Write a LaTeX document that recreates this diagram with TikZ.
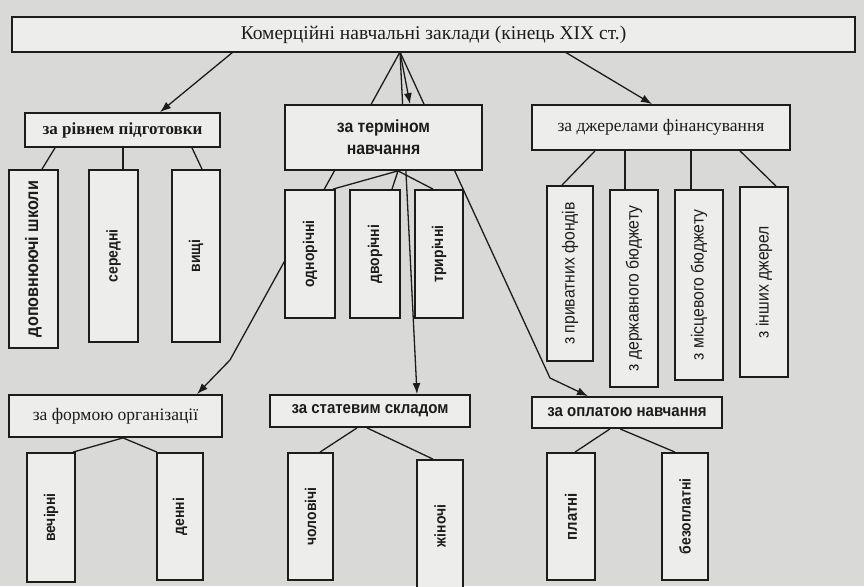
\documentclass[tikz,border=0pt]{standalone}
\usepackage{fontspec}
\setmainfont{Liberation Serif}
\newfontfamily\narrowsf[FakeStretch=0.9]{Liberation Sans}
\usetikzlibrary{arrows.meta}

\pgfdeclarelayer{paper}
\pgfdeclarelayer{lines}
\pgfsetlayers{paper,lines,main}

\definecolor{scan}{HTML}{D9D9D7}
\definecolor{card}{HTML}{EDEDEB}
\definecolor{ink}{HTML}{1C1C1C}

\tikzset{
  box/.style={draw=ink, fill=card, line width=1.8pt, inner sep=0pt, text=ink, align=center},
  serifbox/.style={box, font=\fontsize{17.5}{20}\selectfont},
  sansbox/.style={box, font=\narrowsf\bfseries\fontsize{16.7}{21}\selectfont},
  vbox/.style={box, rotate=90, font=\narrowsf\bfseries\fontsize{15.5}{15.5}\selectfont},
  vthin/.style={vbox, font=\narrowsf\fontsize{17.5}{17.5}\selectfont},
  link/.style={ink, line width=1.3pt},
  arr/.style={link, -{Latex[length=11pt,width=8pt]}}
}

\begin{document}
\begin{tikzpicture}[x=1pt, y=-1pt]
  \begin{pgfonlayer}{paper}
    \fill [scan] (0,0) rectangle (864,586);
  \end{pgfonlayer}
  \useasboundingbox (0,0) rectangle (864,586);

  % top
  \node [box, minimum width=843pt, minimum height=35pt, font=\fontsize{19.5}{19.5}\selectfont] (main) at (433.5,34.5) {Комерційні навчальні заклади (кінець XIX ст.)};

  \coordinate (hubL) at (233,52);
  \coordinate (hub) at (400,52);
  \coordinate (hubR) at (565,52);
  \coordinate (kinkF) at (230,360);
  \coordinate (kinkO) at (550,378);

  % first row of criteria
  \node [serifbox, font=\bfseries\fontsize{17}{20}\selectfont, minimum width=195pt, minimum height=34pt] (lev) at (122.5,130) {за рівнем підготовки};
  \node [sansbox, font=\narrowsf\bfseries\fontsize{17.5}{22}\selectfont, minimum width=197pt, minimum height=65pt] (term) at (383.5,137.5) {за терміном\\навчання};
  \node [serifbox, minimum width=258pt, minimum height=45pt] (fin) at (661,127.5) {за джерелами фінансування};

  \node [vbox, font=\narrowsf\bfseries\fontsize{18}{18}\selectfont, minimum width=178pt, minimum height=49pt] (dop) at (33.5,259) {доповнюючі школи};
  \node [vbox, minimum width=172pt, minimum height=49pt] (ser) at (113.5,256) {середні};
  \node [vbox, minimum width=172pt, minimum height=48pt] (vys) at (196,256) {вищі};

  \node [vbox, minimum width=128pt, minimum height=50pt] (one) at (310,254) {однорічні};
  \node [vbox, minimum width=128pt, minimum height=50pt] (two) at (375,254) {дворічні};
  \node [vbox, minimum width=128pt, minimum height=48pt] (three) at (439,254) {трирічні};

  \node [vthin, minimum width=175pt, minimum height=46pt] (priv) at (570,273.5) {з приватних фондів};
  \node [vthin, minimum width=197pt, minimum height=48pt] (derzh) at (634,288.5) {з державного бюджету};
  \node [vthin, minimum width=190pt, minimum height=48pt] (mists) at (699,285) {з місцевого бюджету};
  \node [vthin, minimum width=190pt, minimum height=48pt] (insh) at (764,282) {з інших джерел};

  % second row of criteria
  \node [serifbox, minimum width=213pt, minimum height=42pt] (form) at (115.5,416) {за формою організації};
  \node [sansbox, minimum width=200pt, minimum height=32pt] (stat) at (370,411) {за статевим складом};
  \node [sansbox, minimum width=190pt, minimum height=31pt] (opl) at (627,412.5) {за оплатою навчання};

  \node [vbox, minimum width=129pt, minimum height=48pt] (vech) at (51,517.5) {вечірні};
  \node [vbox, minimum width=127pt, minimum height=46pt] (denn) at (180,516.5) {денні};
  \node [vbox, minimum width=127pt, minimum height=45pt] (chol) at (310.5,516.5) {чоловічі};
  \node [vbox, minimum width=132pt, minimum height=46pt] (zhin) at (440,526) {жіночі};
  \node [vbox, font=\narrowsf\bfseries\fontsize{16.5}{16.5}\selectfont, minimum width=127pt, minimum height=48pt] (plat) at (571,516.5) {платні};
  \node [vbox, minimum width=127pt, minimum height=46pt] (bez) at (685,516.5) {безоплатні};

  \begin{pgfonlayer}{lines}
    \draw [arr] (hubL) to ([xshift=37.5pt]lev.north);
    \draw [arr] (hub) to ([xshift=26.5pt]term.north);
    \draw [arr] (hubR) to ([xshift=-9pt]fin.north);
    \draw [arr] (hub) -- (kinkF) -- ([xshift=81.5pt]form.north);
    \draw [arr] (hub) to ([xshift=47pt]stat.north);
    \draw [arr] (hub) -- (kinkO) -- ([xshift=-39pt]opl.north);

    \draw [link] ([xshift=-67.5pt]lev.south) to ([xshift=8.5pt]dop.east);
    \draw [link] ([xshift=0.5pt]lev.south) to ([xshift=9.5pt]ser.east);
    \draw [link] ([xshift=69.5pt]lev.south) to ([xshift=6pt]vys.east);

    \draw [link] ([xshift=14.5pt]term.south) to ([xshift=23pt]one.east);
    \draw [link] ([xshift=14.5pt]term.south) to ([xshift=17pt]two.east);
    \draw [link] ([xshift=14.5pt]term.south) to ([xshift=-6pt]three.east);

    \draw [link] ([xshift=-66pt]fin.south) to ([xshift=-8pt]priv.east);
    \draw [link] ([xshift=-36pt]fin.south) to ([xshift=-9pt]derzh.east);
    \draw [link] ([xshift=30pt]fin.south) to ([xshift=-8pt]mists.east);
    \draw [link] ([xshift=79pt]fin.south) to ([xshift=12pt]insh.east);

    \draw [link] ([xshift=7.5pt]form.south) to ([xshift=22pt]vech.east);
    \draw [link] ([xshift=7.5pt]form.south) to ([xshift=-23pt]denn.east);

    \draw [link] ([xshift=-13pt]stat.south) to ([xshift=9.5pt]chol.east);
    \draw [link] ([xshift=-3pt]stat.south) to ([xshift=-7pt]zhin.east);

    \draw [link] ([xshift=-17pt]opl.south) to ([xshift=4pt]plat.east);
    \draw [link] ([xshift=-7pt]opl.south) to ([xshift=-10pt]bez.east);
  \end{pgfonlayer}
\end{tikzpicture}
\end{document}
